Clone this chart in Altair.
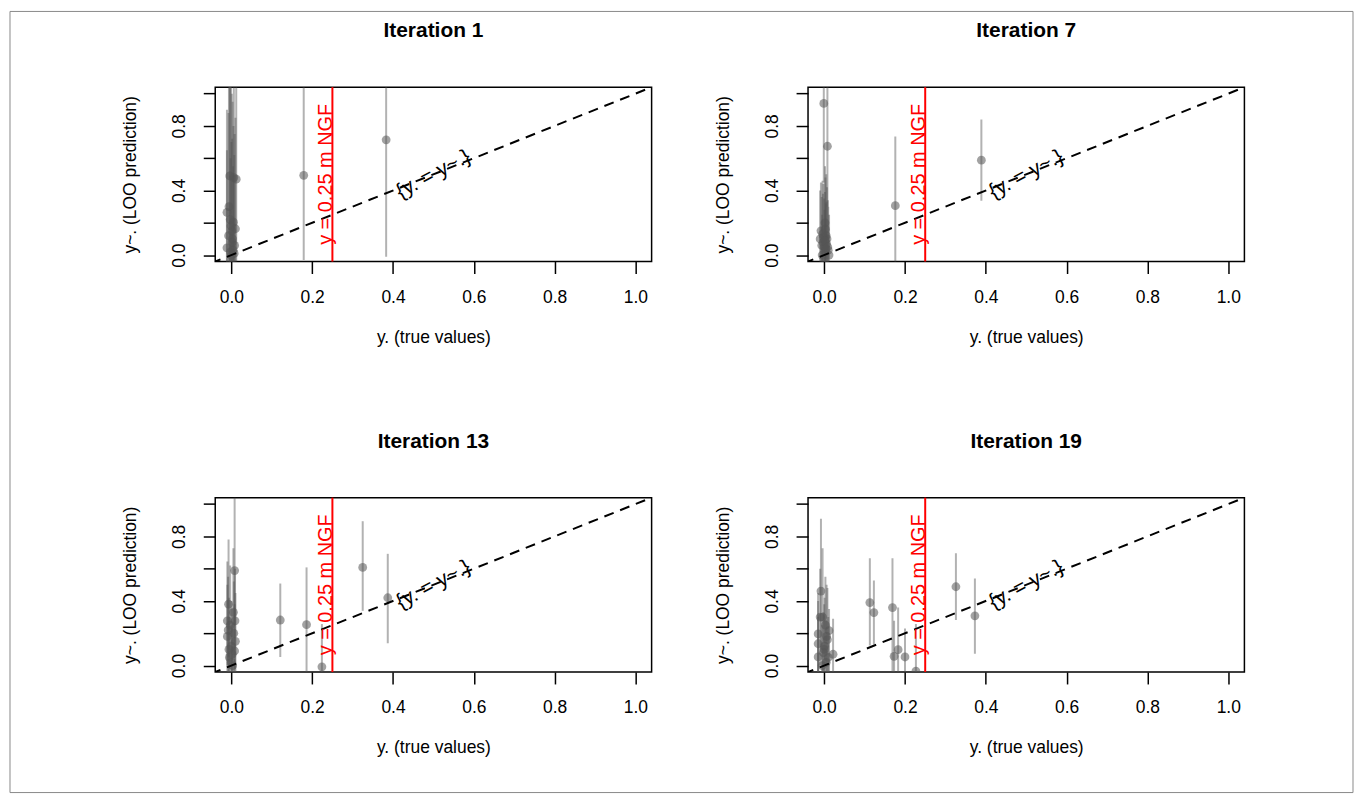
import altair as alt
import pandas as pd

FONT = "Liberation Sans"

TITLES = ["Iteration 1", "Iteration 7", "Iteration 13", "Iteration 19"]
X_TITLE = "y. (true values)"
Y_TITLE = "y~. (LOO prediction)"
THRESH_LABEL = "y = 0.25 m NGF"
DIAG_LABEL = "{y. = y~.}"
THRESH = [0.25]
LABEL_POS = [0.5]
DIAG = [-0.05, 1.1]
TICKS = [0.0, 0.2, 0.4, 0.6, 0.8, 1.0]

# Iteration 1
it1_x = [0.179, 0.383, -0.004, 0.006, 0.012, -0.011, 0.005, 0.010, -0.011, -0.002, 0.000, 0.003, -0.006, 0.008, 0.001, -0.003, 0.004, -0.007, 0.002, -0.001, 0.007]
it1_y = [0.494, 0.714, 0.49, 0.48, 0.47, 0.265, 0.204, 0.163, 0.045, 0.02, 0.0, 0.10, 0.30, 0.06, 0.15, 0.22, 0.03, 0.12, 0.08, 0.18, 0.01]
it1_lo = [-0.03, -0.01, -0.20, -0.15, -0.12, -0.10, -0.08, -0.10, -0.12, -0.10, -0.15, -0.10, -0.08, -0.10, -0.10, -0.06, -0.12, -0.10, -0.10, -0.08, -0.12]
it1_hi = [1.30, 1.30, 1.30, 1.25, 1.20, 0.90, 0.80, 0.85, 0.65, 0.60, 0.70, 0.95, 1.10, 0.75, 1.00, 1.15, 0.55, 0.88, 0.72, 1.05, 0.62]

# Iteration 7
it7_x = [0.176, 0.389, -0.001, 0.008, -0.008, -0.010, 0.000, 0.005, 0.010, -0.005, 0.002, 0.012, -0.003, 0.004, 0.007, -0.006, 0.001, 0.003, -0.002, 0.006, -0.004, 0.002, 0.009]
it7_y = [0.306, 0.588, 0.939, 0.674, 0.15, 0.10, 0.05, 0.12, 0.03, 0.00, 0.20, 0.00, 0.08, 0.04, 0.10, 0.06, 0.02, 0.16, 0.11, 0.07, 0.13, 0.09, 0.05]
it7_lo = [-0.20, 0.337, 0.45, 0.30, -0.10, -0.12, -0.15, -0.10, -0.15, -0.20, -0.05, -0.18, -0.10, -0.12, -0.10, -0.12, -0.15, -0.08, -0.10, -0.12, -0.10, -0.12, -0.14]
it7_hi = [0.735, 0.84, 1.40, 1.30, 0.45, 0.40, 0.35, 0.50, 0.30, 0.25, 0.55, 0.25, 0.38, 0.32, 0.42, 0.36, 0.28, 0.48, 0.44, 0.33, 0.46, 0.39, 0.34]

# Iteration 13
it13_x = [0.121, 0.186, 0.224, 0.325, 0.387, 0.008, -0.007, 0.009, -0.010, -0.010, 0.000, 0.008, -0.005, 0.003, -0.008, 0.005, 0.000, 0.010, -0.003, 0.006, 0.002, -0.006]
it13_y = [0.282, 0.253, -0.008, 0.608, 0.42, 0.588, 0.38, 0.277, 0.277, 0.18, 0.12, 0.09, 0.05, 0.0, 0.22, 0.33, 0.02, 0.15, 0.25, 0.20, 0.07, 0.10]
it13_lo = [0.053, -0.20, -0.20, 0.339, 0.138, 0.25, 0.05, -0.02, 0.0, -0.05, -0.10, -0.10, -0.15, -0.20, -0.05, 0.05, -0.15, -0.10, -0.02, -0.05, -0.12, -0.10]
it13_hi = [0.508, 0.608, 0.257, 0.894, 0.692, 1.30, 0.78, 0.60, 0.645, 0.50, 0.40, 0.38, 0.30, 0.26, 0.55, 0.726, 0.25, 0.45, 0.62, 0.52, 0.35, 0.42]

# Iteration 19
it19_x = [0.113, 0.123, 0.169, 0.173, 0.183, 0.200, 0.227, 0.326, 0.373, -0.008, -0.004, 0.022, 0.012, -0.015, -0.015, -0.015, 0.000, 0.005, 0.008, -0.005, 0.003, 0.010, -0.010, 0.001, -0.002, 0.006]
it19_y = [0.39, 0.328, 0.359, 0.057, 0.098, 0.053, -0.035, 0.488, 0.308, 0.461, 0.30, 0.07, 0.216, 0.196, 0.135, 0.053, 0.10, 0.02, 0.16, 0.0, 0.25, 0.05, 0.30, 0.12, 0.08, 0.18]
it19_lo = [0.124, 0.13, -0.20, -0.20, -0.20, -0.20, -0.20, 0.282, 0.073, 0.10, -0.05, -0.20, -0.05, -0.10, -0.10, -0.15, -0.15, -0.20, -0.10, -0.20, 0.0, -0.15, 0.0, -0.10, -0.12, -0.05]
it19_hi = [0.665, 0.527, 0.665, 0.277, 0.359, 0.23, 0.257, 0.696, 0.539, 0.91, 0.726, 0.29, 0.35, 0.45, 0.40, 0.30, 0.38, 0.28, 0.48, 0.25, 0.55, 0.30, 0.60, 0.42, 0.33, 0.50]

SERIES = [
    (it1_x, it1_y, it1_lo, it1_hi),
    (it7_x, it7_y, it7_lo, it7_hi),
    (it13_x, it13_y, it13_lo, it13_hi),
    (it19_x, it19_y, it19_lo, it19_hi),
]

W, H = 438, 175

xscale = alt.Scale(domain=[-0.04, 1.04], nice=False, zero=False)
yscale = alt.Scale(domain=[-0.04, 1.04], nice=False, zero=False)

xaxis = alt.Axis(values=TICKS, format=".1f", title=X_TITLE, labelPadding=15,
                 titleX=W / 2, titleY=76, titleBaseline="middle", titleAlign="center",
                 labelFlush=False, labelOverlap=False)
yaxis = alt.Axis(values=TICKS, title=Y_TITLE,
                 labelExpr="(round(datum.value*10) % 4 == 0) ? format(datum.value, '.1f') : ''",
                 labelAngle=270, labelAlign="center", labelBaseline="alphabetic", labelPadding=19,
                 titleAngle=270, titleX=-85, titleY=H / 2, titleAlign="center", titleBaseline="middle",
                 labelFlush=False, labelOverlap=False)


def X(field):
    return alt.X(field, type="quantitative", scale=xscale, axis=xaxis)


def Y(field):
    return alt.Y(field, type="quantitative", scale=yscale, axis=yaxis)


def panel(idx):
    xs, ys, los, his = SERIES[idx]
    df = pd.DataFrame({"x": xs, "y": ys, "lo": los, "hi": his})
    base = alt.Chart(df)
    bars = base.mark_rule(color="#555555", opacity=0.45, strokeWidth=2, clip=True).encode(
        x=X("x"), y=Y("lo"), y2="hi")
    pts = base.mark_circle(color="#555555", opacity=0.55, size=78, clip=True).encode(
        x=X("x"), y=Y("y"))
    diag = alt.Chart(pd.DataFrame({"x": DIAG, "y": DIAG})).mark_line(
        color="black", strokeDash=[10, 7], strokeWidth=2, clip=True).encode(x=X("x"), y=Y("y"))
    red = alt.Chart(pd.DataFrame({"x": THRESH})).mark_rule(color="#ff0000", strokeWidth=2).encode(x=X("x"))
    red_txt = alt.Chart(pd.DataFrame({"x": THRESH, "y": LABEL_POS, "t": [THRESH_LABEL]})).mark_text(
        angle=270, align="center", baseline="alphabetic", color="#ff0000", font=FONT, fontSize=20
    ).encode(x=X("x"), y=Y("y"), text="t:N")
    diag_txt = alt.Chart(pd.DataFrame({"x": LABEL_POS, "y": LABEL_POS, "t": [DIAG_LABEL]})).mark_text(
        angle=332, align="center", baseline="middle", color="black", font=FONT, fontSize=21
    ).encode(x=X("x"), y=Y("y"), text="t:N")
    title = alt.Chart(pd.DataFrame({"t": [TITLES[idx]]})).mark_text(
        align="center", baseline="middle", color="black", font=FONT, fontSize=21,
        fontWeight="bold", clip=False
    ).encode(x=alt.value(W / 2), y=alt.value(-56), text="t:N")
    layers = [bars, pts, diag, red, red_txt, diag_txt, title]
    if idx == 0:
        border = alt.Chart(pd.DataFrame({"a": [0]})).mark_rect(
            filled=False, stroke="#8a8a8a", strokeWidth=1, clip=False
        ).encode(x=alt.value(-206), x2=alt.value(1142), y=alt.value(-76), y2=alt.value(708))
        layers = [border] + layers
    return alt.layer(*layers).properties(width=W, height=H)


chart = alt.concat(
    *[panel(i) for i in range(4)], columns=2, spacing={"row": 237, "column": 157}, bounds="flush"
).properties(
    padding={"left": 0, "top": 0, "right": 0, "bottom": 0}, background="white"
).configure_view(
    stroke="black", strokeWidth=1.5
).configure_axis(
    labelFont=FONT, titleFont=FONT, labelColor="black", titleColor="black",
    labelFontSize=17.5, titleFontSize=17.5, titleFontWeight="normal",
    tickColor="black", tickWidth=1.5, tickSize=12, domain=False, grid=False
)

chart.save("out.html", embed_options={"renderer": "svg", "actions": False})
